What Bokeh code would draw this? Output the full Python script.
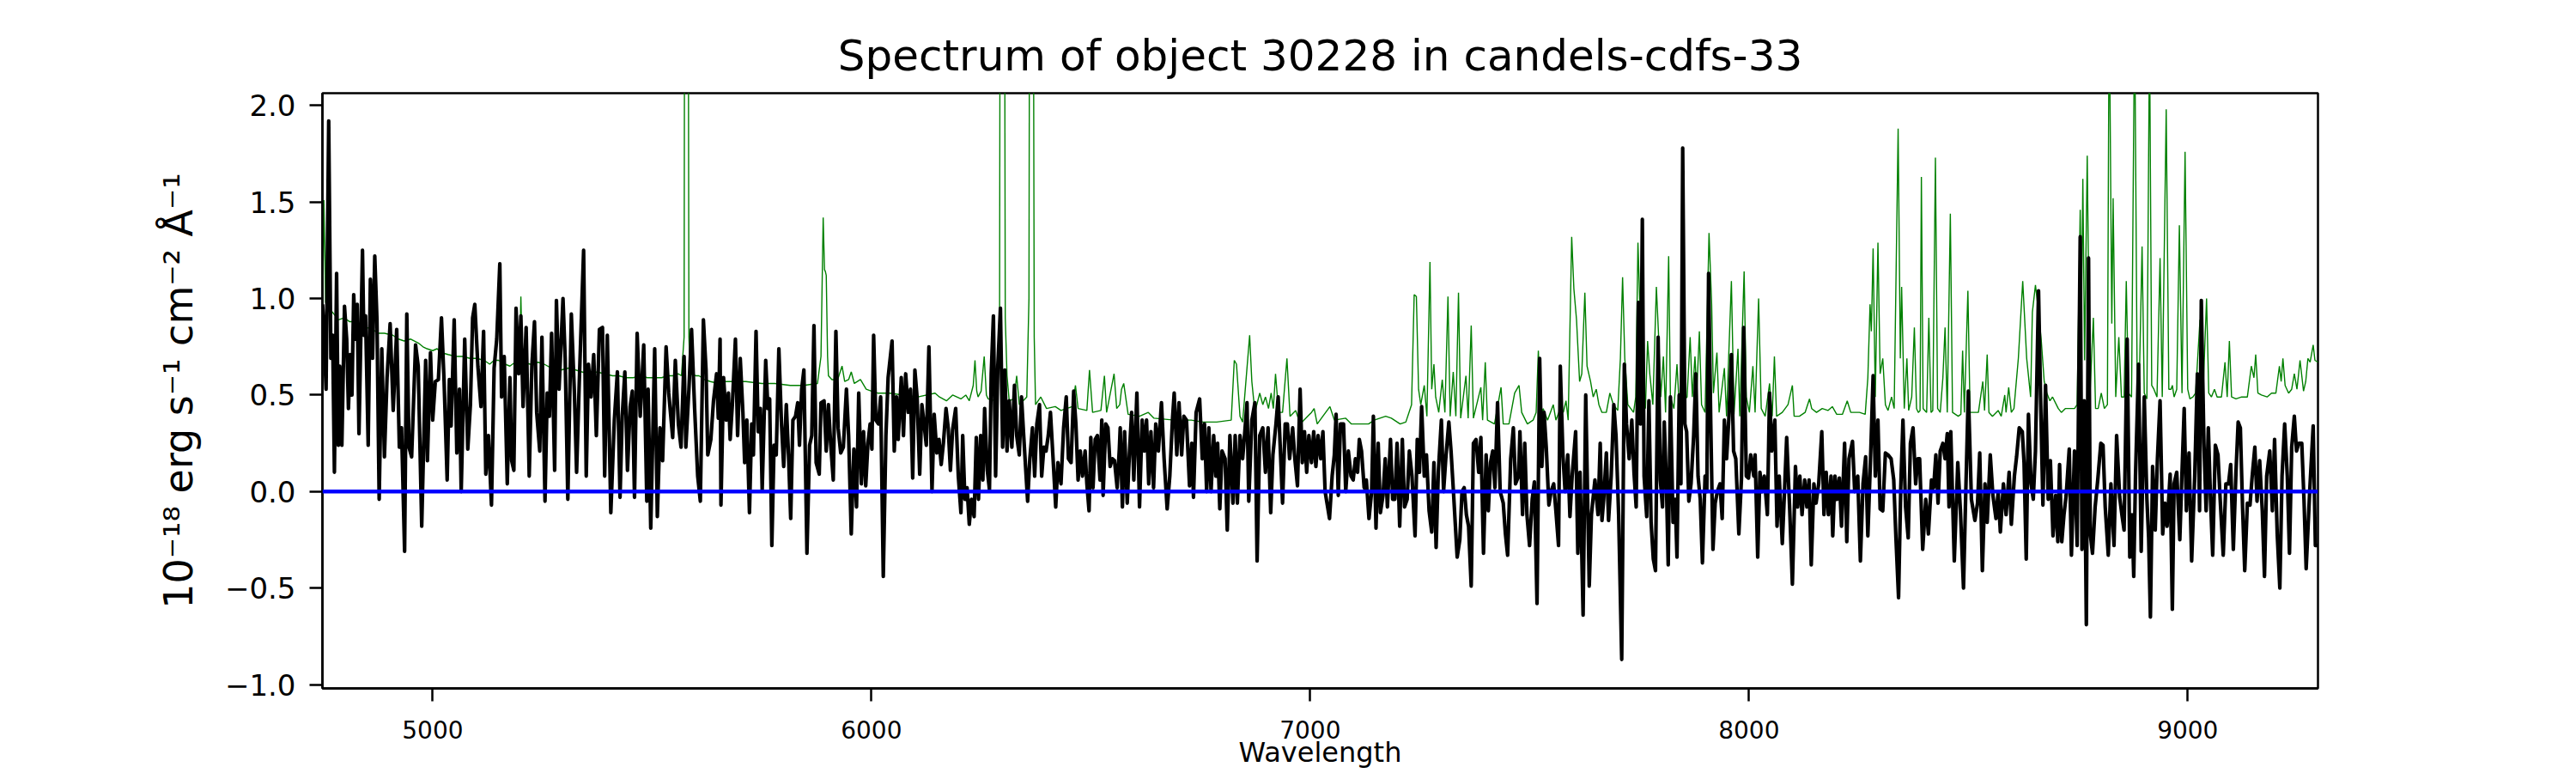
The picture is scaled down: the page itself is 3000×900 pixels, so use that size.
from bokeh.plotting import figure
from bokeh.models import Range1d, FixedTicker, Span, CustomJSTickFormatter
from bokeh.embed import file_html
from bokeh.resources import INLINE

TITLE = "Spectrum of object 30228 in candels-cdfs-33"
X_LABEL = "Wavelength"
Y_LABEL = "10⁻¹⁸ erg s⁻¹ cm⁻² Å⁻¹"
X_TICKS = [5000, 6000, 7000, 8000, 9000]
Y_TICKS = [-1.0, -0.5, 0.0, 0.5, 1.0, 1.5, 2.0]
X_LIMITS = (4748.7, 9296.9)
Y_LIMITS = (-1.02, 2.064)
ZERO_LEVEL = 0.0

# object flux (wavelength, flux)
FLUX_A = [(4749,0.97),(4751,0.89),(4757,0.53),(4763,1.92),(4768,0.69),(4772,0.81),(4776,0.10),(4781,1.13),(4785,0.24),(4788,0.65),(4793,0.24),
(4799,0.96),(4804,0.79),(4808,0.43),(4812,0.71),(4816,0.50),(4820,1.02),(4824,0.79),(4828,0.97),(4832,0.30),(4840,1.25),
(4843,0.81),(4847,0.91),(4853,0.24),(4858,1.10),(4863,0.69),(4868,1.22),(4873,0.89),(4878,-0.04),(4884,0.74),(4890,0.18),
(4896,0.59),(4903,0.87),(4910,0.42),(4918,0.84),(4924,0.23),(4929,0.33),(4936,-0.31),(4941,0.92),(4946,0.23),(4952,0.18),
(4961,0.76),(4967,0.65),(4975,-0.18),(4984,0.68),(4988,0.16),(4995,0.72),(5000,0.37),(5006,0.57),(5013,0.58),(5020,0.90),
(5026,0.57),(5033,0.06),(5038,0.58),(5042,0.34),(5049,0.89),(5055,0.20),(5061,0.53),(5065,0.00),(5073,0.79),(5080,0.22),
(5086,0.45),(5091,0.90),(5096,0.97),(5103,0.65),(5110,0.44),(5116,0.83),(5121,0.09),(5127,0.29),(5134,-0.07),(5140,0.64),
(5146,0.79),(5153,1.18),(5157,0.49),(5163,0.70),(5170,0.04),(5176,0.59),(5180,0.16),(5185,0.11),(5190,0.95),(5196,0.61),
(5201,0.91),(5206,0.44),(5213,0.85),(5220,0.08),(5226,0.65),(5232,0.88),(5237,0.41),(5244,0.21),(5249,0.80),(5256,-0.05),
(5261,0.51),(5266,0.39),(5271,0.82),(5278,0.11),(5282,0.99),(5288,0.53),(5297,1.00),(5302,0.69),(5308,-0.04),(5316,0.92),
(5323,0.51),(5328,0.10),(5334,0.56),(5344,1.25),(5350,0.08),(5355,0.66),(5361,0.49),(5367,0.71),(5373,0.29),(5380,0.84),
(5387,0.85),(5392,0.08),(5398,0.81),(5406,-0.11),(5414,0.37),(5421,0.62),(5427,-0.03),(5432,0.39),(5438,0.62),(5444,0.11),
(5450,0.44),(5455,0.52),(5460,-0.03),(5466,0.82),(5473,0.39),(5481,0.76),(5488,-0.05),(5491,0.53),(5497,-0.19),(5506,0.74),
(5512,-0.13),(5518,0.33),(5524,0.16),(5532,0.75),(5538,0.51),(5547,0.28),(5553,0.68),(5560,0.35),(5566,0.23),(5573,0.70),
(5577,0.23),(5584,0.53),(5590,0.84),(5597,0.43),(5604,0.08),(5610,-0.05),(5617,0.89),(5623,0.63),(5627,0.19),(5634,0.27),
(5640,0.47),(5647,0.61),(5651,0.38),(5655,0.79)]

FLUX_B = [(5657,-0.07),(5663,0.59),(5669,0.37),(5674,0.51),(5678,0.27),(5683,0.45),(5690,0.79),(5695,0.29),(5701,0.69),(5707,0.41),
(5711,0.15),(5716,0.37),(5722,-0.11),(5727,0.35),(5731,0.19),(5737,0.83),(5742,0.31),(5747,0.43),(5751,0.01),(5759,0.68),
(5764,0.43),(5768,0.48),(5773,-0.28),(5778,0.24),(5783,0.19),(5789,0.74),(5795,0.35),(5800,0.13),(5806,0.45),(5811,0.19),
(5816,-0.14),(5821,0.37),(5827,0.39),(5832,0.46),(5836,0.24),(5841,0.53),(5846,0.63),(5853,-0.32),(5859,0.24),(5864,0.29),
(5869,0.86),(5874,0.15),(5881,0.09),(5885,0.46),(5892,0.47),(5897,0.21),(5902,0.45),(5907,0.25),(5913,0.06),(5919,0.83),
(5924,0.33),(5930,0.20),(5936,0.23),(5943,0.53),(5948,0.29),(5954,-0.22),(5960,0.22),(5966,-0.08),(5971,0.51),(5977,0.04),
(5982,0.31),(5987,0.03),(5992,0.25),(5997,0.35),(6001,0.22),(6005,0.81),(6010,0.37),(6016,0.35),(6021,0.49),(6027,-0.44),
(6033,0.29),(6038,0.59),(6047,0.78),(6052,0.21),(6057,0.49),(6061,0.27),(6068,0.59),(6073,0.29),(6078,0.61),(6084,0.41),
(6089,0.53),(6094,0.07),(6099,0.63),(6104,0.49),(6110,0.09),(6115,0.45),(6120,0.35),(6125,0.24),(6131,0.75),(6138,0.00),
(6143,0.40),(6149,0.20),(6154,0.27),(6159,0.14),(6164,0.25),(6170,0.43),(6175,0.33),(6180,0.11),(6185,0.32),(6192,0.43),
(6198,0.08),(6204,-0.11),(6208,0.29),(6213,-0.04),(6218,0.02),(6223,-0.17),(6228,-0.04),(6234,-0.13),(6239,0.28),(6244,-0.04),
(6249,0.29),(6254,0.06),(6258,0.43),(6264,0.11),(6269,0.01),(6273,0.61),(6278,0.91),(6283,0.08),(6288,0.65),(6294,0.95),
(6299,0.23),(6304,0.63),(6309,0.21),(6314,0.47),(6320,0.23),(6326,0.55),(6331,0.29),(6337,0.19),(6342,0.49),(6347,0.29),
(6356,-0.05),(6361,0.17),(6367,0.33),(6372,0.08),(6377,0.35),(6383,0.45),(6388,0.08),(6393,0.23),(6398,0.21),(6403,0.29),
(6408,0.41),(6414,0.17),(6420,-0.08),(6425,0.15),(6432,0.04),(6438,0.33),(6444,0.49),(6449,0.17),(6455,0.15),(6461,0.52),
(6466,0.35),(6471,0.06),(6476,0.21),(6481,0.08),(6487,0.21),(6491,0.04),(6496,-0.10),(6500,0.28),(6505,0.02),(6510,0.27),
(6515,0.29),(6521,0.06),(6525,0.37),(6528,-0.02),(6534,0.35),(6539,0.33),(6544,0.13),(6549,0.17),(6554,0.16),(6560,0.02),
(6565,0.22)]

FLUX_C = [(6567,0.33),(6572,-0.08),(6577,0.31),(6583,-0.06),(6588,0.20),(6593,0.41),(6598,0.06),(6605,0.51),(6611,-0.08),(6617,0.37),
(6622,0.21),(6627,0.37),(6632,0.04),(6637,0.31),(6643,0.02),(6648,0.35),(6654,0.21),(6661,0.46),(6667,0.17),(6674,-0.09),
(6680,0.08),(6686,0.37),(6690,0.51),(6696,0.19),(6701,0.46),(6707,0.19),(6712,0.39),(6718,0.37),(6725,0.03),(6730,0.25),
(6734,-0.03),(6740,0.41),(6748,0.48),(6754,0.17),(6759,0.35),(6764,0.00),(6769,0.33),(6774,0.00),(6780,0.29),(6785,0.08),
(6789,0.25),(6794,-0.09),(6799,0.21),(6806,0.17),(6811,-0.20),(6817,0.29),(6824,-0.06),(6829,0.29),(6834,-0.06),(6840,0.29),
(6846,0.17),(6851,0.31),(6856,0.46),(6860,-0.05),(6867,0.37),(6874,0.46),(6879,-0.36),(6885,0.29),(6892,0.33),(6898,0.10),
(6904,0.33),(6910,-0.11),(6915,0.19),(6922,0.35),(6927,0.49),(6931,0.27),(6937,-0.06),(6943,0.35),(6948,0.35),(6953,0.17),
(6960,0.33),(6965,0.17),(6971,0.03),(6977,0.53),(6982,0.15),(6987,0.31),(6992,0.10),(6997,0.29),(7003,0.15),(7008,0.31),
(7013,0.13),(7018,0.29),(7024,0.17),(7029,0.31),(7034,0.00),(7039,-0.07),(7044,-0.14),(7050,0.08),(7055,0.19),(7059,0.40),
(7064,-0.02),(7069,0.35),(7076,0.35),(7081,0.00),(7087,0.21),(7093,0.08),(7098,0.06),(7103,0.17),(7108,0.10),(7112,0.27),
(7117,0.21),(7123,0.02),(7128,0.06),(7134,-0.14),(7140,0.00),(7144,0.39),(7150,-0.19),(7155,0.25),(7160,-0.11),(7166,-0.02),
(7171,0.17),(7176,-0.08),(7183,0.27),(7188,-0.04),(7193,-0.04),(7198,0.25),(7204,-0.18),(7210,0.27),(7215,-0.08),(7221,-0.04),
(7226,0.21),(7232,0.08),(7239,-0.23),(7244,0.27),(7249,0.10),(7254,0.44),(7260,0.08),(7265,0.19),(7271,-0.10),(7277,-0.21),
(7282,0.15),(7287,-0.29),(7292,0.10),(7299,0.37),(7304,0.00),(7309,0.17),(7316,0.36),(7321,0.21),(7327,-0.02),(7335,-0.34),
(7341,-0.25),(7346,0.00),(7351,0.02),(7356,-0.12),(7361,-0.18),(7367,-0.49),(7372,0.25),(7378,0.27),(7384,0.10),(7389,0.28),
(7395,-0.32),(7401,0.19),(7406,-0.10),(7411,0.15),(7416,0.21),(7421,0.02),(7427,0.46),(7433,0.00),(7440,-0.06),(7445,-0.22),
(7450,-0.33),(7457,0.17),(7463,0.33),(7468,0.04),(7475,0.08)]

FLUX_D = [(7478,0.31),(7484,-0.12),(7489,0.25),(7494,-0.12),(7500,-0.28),(7506,-0.04),(7511,0.05),(7517,-0.58),(7523,0.69),(7528,0.13),
(7533,0.41),(7538,0.23),(7544,-0.07),(7549,0.00),(7555,0.04),(7560,-0.10),(7566,-0.28),(7570,0.65),(7576,0.19),(7581,0.00),
(7587,0.19),(7592,-0.13),(7597,0.08),(7605,0.31),(7610,-0.32),(7615,0.10),(7622,-0.64),(7628,0.50),(7636,-0.49),(7641,-0.12),
(7649,0.06),(7656,-0.12),(7661,0.25),(7665,-0.15),(7669,-0.04),(7675,0.20),(7680,-0.15),(7686,0.08),(7692,0.45),(7697,0.29),
(7703,-0.12),(7710,-0.87),(7716,0.66),(7721,0.35),(7727,0.17),(7733,0.37),(7738,0.10),(7743,-0.08),(7748,0.98),(7753,0.35),
(7757,1.41),(7761,0.08),(7767,-0.13),(7772,0.47),(7777,-0.16),(7782,-0.35),(7787,-0.41),(7793,0.80),(7798,0.06),(7803,-0.08),
(7807,0.36),(7812,0.03),(7816,-0.38),(7821,0.49),(7827,-0.16),(7832,-0.04),(7836,-0.34),(7841,0.50),(7845,0.04),(7849,1.78),
(7854,0.35),(7858,0.31),(7863,-0.05),(7868,0.04),(7874,0.29),(7879,0.61),(7884,0.08),(7889,-0.04),(7894,-0.37),(7900,0.08),
(7904,0.00),(7908,1.13),(7913,0.35),(7918,-0.30),(7923,-0.06),(7928,0.00),(7934,0.04),(7939,-0.14),(7944,0.37),(7949,0.17),
(7954,0.37),(7960,0.71),(7965,0.21),(7970,0.17),(7977,-0.22),(7983,0.07),(7988,0.85),(7994,0.08),(7999,0.07),(8004,0.19),
(8011,0.08),(8014,0.19),(8020,-0.34),(8025,0.10),(8030,0.00),(8035,0.08),(8042,-0.12),(8047,0.51),(8052,0.21),(8059,0.37),
(8064,-0.18),(8069,0.08),(8076,-0.27),(8081,0.00),(8086,0.28),(8093,-0.10),(8099,-0.48),(8106,0.13),(8111,-0.08),(8116,0.08),
(8121,-0.12),(8127,0.06),(8132,-0.08),(8137,0.06),(8142,-0.38),(8148,0.04),(8153,-0.06),(8159,0.04),(8166,0.31),(8171,-0.12),
(8176,0.10),(8181,-0.12),(8187,0.08),(8191,-0.23),(8196,0.08),(8201,-0.04),(8206,0.07),(8211,-0.18),(8218,0.25),(8223,-0.26),
(8228,0.17),(8236,0.26),(8241,0.00),(8248,0.08),(8254,-0.36),(8260,0.04),(8266,0.18),(8271,-0.23),(8278,0.23),(8283,0.60),
(8288,0.08),(8294,0.37),(8299,-0.09),(8305,-0.10),(8311,0.20),(8317,0.19),(8324,0.17),(8330,0.06),(8335,-0.24),(8341,-0.55),
(8346,0.02),(8351,0.37),(8357,-0.08),(8363,-0.24),(8368,0.25),(8374,0.33),(8380,0.04),(8385,0.17)]

FLUX_E = [(8389,0.17),(8396,-0.30),(8403,-0.04),(8409,-0.22),(8416,0.06),(8421,0.02),(8426,0.19),(8431,-0.06),(8436,0.21),(8442,0.25),
(8447,0.17),(8452,0.30),(8456,-0.08),(8460,0.31),(8468,-0.36),(8476,0.15),(8482,-0.10),(8489,-0.50),(8494,-0.02),(8500,0.52),
(8507,-0.04),(8515,-0.15),(8521,-0.06),(8526,0.20),(8532,-0.41),(8538,0.04),(8543,-0.16),(8550,0.19),(8556,-0.02),(8563,-0.14),
(8568,0.00),(8573,-0.21),(8580,0.04),(8586,-0.12),(8593,0.10),(8598,-0.17),(8605,0.08),(8610,0.18),(8616,0.33),(8623,0.31),
(8627,0.15),(8632,-0.35),(8637,0.40),(8643,0.04),(8648,-0.04),(8653,0.21),(8660,1.04),(8665,0.45),(8670,-0.07),(8676,0.55),
(8682,-0.04),(8687,0.16),(8693,-0.23),(8699,-0.02),(8704,-0.26),(8708,0.14),(8713,-0.26),(8718,-0.12),(8723,-0.02),(8730,0.22),
(8735,-0.33),(8742,0.21),(8748,-0.28),(8755,1.32),(8759,-0.30),(8764,0.47),(8769,-0.69),(8774,1.21),(8778,-0.22),(8783,-0.32),
(8789,-0.08),(8795,0.06),(8802,0.25),(8807,0.24),(8812,-0.08),(8819,-0.33),(8825,0.04),(8832,-0.28),(8838,0.29),(8845,-0.03),
(8850,-0.12),(8855,-0.20),(8862,0.79),(8868,-0.34),(8873,-0.12),(8877,-0.44),(8881,0.08),(8888,0.66),(8894,-0.31),(8901,0.49),
(8907,-0.04),(8911,-0.24),(8915,-0.65),(8920,0.13),(8926,-0.20),(8931,0.17),(8937,0.47),(8943,-0.22),(8948,-0.06),(8953,-0.18),
(8960,0.09),(8965,-0.61),(8969,0.04),(8975,0.10),(8982,-0.25),(8987,0.10),(8992,0.43),(8997,-0.10),(9003,0.20),(9009,-0.36),
(9016,0.08),(9022,0.61),(9027,-0.10),(9031,0.99),(9037,0.25),(9042,-0.10),(9047,0.33),(9052,-0.04),(9057,-0.33),(9063,0.24),
(9069,0.19),(9074,-0.04),(9081,-0.33),(9087,0.04),(9093,0.04),(9098,0.14),(9104,-0.30),(9110,0.10),(9115,0.36),(9120,0.33),
(9125,-0.08),(9130,-0.41),(9136,-0.06),(9142,-0.07),(9147,0.08),(9153,0.23),(9158,-0.05),(9164,0.16),(9170,-0.10),(9175,-0.44),
(9180,0.08),(9187,0.21),(9193,-0.10),(9198,0.27),(9204,-0.22),(9210,-0.50),(9215,0.08),(9221,0.35),(9227,0.08),(9232,-0.32),
(9237,0.23),(9243,0.39),(9248,0.21),(9253,0.25),(9260,0.25),(9265,-0.04),(9270,-0.40),(9278,0.00),(9286,0.34),(9291,-0.28),
(9297,-0.28)]

# noise / sky spectrum (wavelength, value)
SKY_A = [(4749,0.95),(4752,1.51),(4756,0.98),(4768,0.94),(4785,0.89),(4798,0.90),(4811,0.88),(4824,0.88),(4837,0.87),(4850,0.85),
(4863,0.84),(4876,0.82),(4890,0.82),(4909,0.81),(4922,0.79),(4935,0.78),(4950,0.79),(4967,0.77),(4978,0.75),(4987,0.74),
(5000,0.73),(5010,0.74),(5019,0.72),(5035,0.71),(5052,0.70),(5068,0.70),(5085,0.69),(5100,0.69),(5117,0.68),(5130,0.66),
(5140,0.68),(5150,0.68),(5165,0.66),(5176,0.65),(5188,0.67),(5196,0.66),(5199,0.75),(5201,1.01),(5203,0.80),(5205,0.67),
(5222,0.66),(5240,0.67),(5254,0.66),(5270,0.64),(5293,0.63),(5310,0.64),(5326,0.63),(5340,0.62),(5359,0.61),(5375,0.62),
(5391,0.61),(5410,0.60),(5424,0.60),(5440,0.59),(5457,0.59),(5475,0.60),(5489,0.59),(5505,0.59),(5522,0.59),(5535,0.60),
(5548,0.60),(5560,0.61),(5567,0.60),(5573,0.80),(5576,6.0),(5580,6.0),(5584,0.80),(5587,0.61),(5600,0.60),(5607,0.60),
(5620,0.58),(5633,0.57),(5652,0.56)]

SKY_B = [(5662,0.57),(5690,0.57),(5714,0.57),(5750,0.56),(5780,0.56),(5815,0.55),(5845,0.55),(5877,0.56),(5885,0.70),(5890,1.42),
(5893,1.15),(5895,1.14),(5897,1.12),(5900,0.70),(5902,0.60),(5910,0.58),(5923,0.58),(5933,0.65),(5939,0.57),(5948,0.58),
(5954,0.62),(5961,0.56),(5975,0.58),(5988,0.53),(6000,0.52),(6014,0.51),(6041,0.51),(6073,0.50),(6106,0.49),(6145,0.51),
(6155,0.49),(6171,0.47),(6185,0.50),(6204,0.48),(6215,0.50),(6223,0.47),(6232,0.55),(6236,0.68),(6240,0.52),(6243,0.49),
(6250,0.52),(6257,0.70),(6262,0.50),(6266,0.48),(6282,0.47),(6292,0.80),(6295,6.0),(6301,6.0),(6305,0.90),(6309,0.60),
(6314,0.47),(6325,0.48),(6331,0.60),(6337,0.45),(6354,0.49),(6359,1.0),(6362,5.0),(6367,5.0),(6371,0.8),(6374,0.45),
(6386,0.49),(6399,0.43),(6419,0.44),(6432,0.42),(6458,0.44),(6465,0.55),(6471,0.43),(6491,0.42),(6497,0.63),(6504,0.41),
(6523,0.42),(6531,0.60),(6536,0.41),(6553,0.61),(6559,0.43)]

SKY_C = [(6566,0.45),(6570,0.53),(6575,0.56),(6585,0.40),(6611,0.39),(6631,0.41),(6644,0.38),(6690,0.37),(6729,0.37),(6755,0.36),
(6787,0.36),(6820,0.37),(6827,0.68),(6832,0.66),(6840,0.39),(6846,0.36),(6862,0.81),(6867,0.57),(6874,0.41),(6885,0.51),
(6892,0.45),(6898,0.49),(6905,0.43),(6911,0.51),(6916,0.43),(6921,0.61),(6928,0.41),(6937,0.41),(6947,0.69),(6954,0.39),
(6967,0.42),(6977,0.35),(7003,0.41),(7009,0.43),(7016,0.35),(7045,0.44),(7055,0.37),(7081,0.38),(7094,0.35),(7133,0.35),
(7146,0.37),(7172,0.39),(7185,0.38),(7205,0.35),(7218,0.36),(7231,0.45),(7237,1.02),(7242,1.01),(7247,0.53),(7252,0.45),
(7260,0.55),(7266,0.39),(7273,1.19),(7277,0.53),(7282,0.66),(7286,0.49),(7293,0.41),(7301,0.58),(7307,0.41),(7314,1.01),
(7319,0.39),(7326,0.62),(7332,0.39),(7338,1.03),(7343,0.38),(7355,0.60),(7360,0.38),(7367,0.86),(7372,0.38),(7389,0.54),
(7393,0.37),(7399,0.67),(7404,0.37),(7420,0.35),(7435,0.54),(7440,0.35),(7453,0.35),(7466,0.51),(7476,0.55)]

SKY_D = [(7482,0.41),(7495,0.35),(7508,0.37),(7515,0.41),(7520,0.73),(7525,0.39),(7531,0.43),(7541,0.37),(7554,0.45),(7560,0.37),
(7570,0.43),(7577,0.41),(7583,0.47),(7588,0.37),(7596,1.32),(7601,1.05),(7607,0.89),(7614,0.57),(7619,0.61),(7626,1.03),
(7631,0.65),(7639,0.57),(7645,0.49),(7652,0.53),(7658,0.45),(7665,0.41),(7675,0.41),(7683,0.51),(7691,0.45),(7701,0.42),
(7707,0.69),(7712,1.11),(7717,0.69),(7724,0.45),(7737,0.41),(7742,0.49),(7747,1.29),(7751,0.99),(7756,0.59),(7764,0.43),
(7769,0.78),(7774,0.61),(7781,0.45),(7789,1.06),(7794,0.81),(7799,0.49),(7805,0.70),(7810,0.41),(7817,1.22),(7821,0.49),
(7829,0.43),(7836,0.66),(7841,0.45),(7859,0.49),(7866,0.80),(7871,0.49),(7877,0.70),(7881,0.51),(7887,0.83),(7892,0.45),
(7900,0.41),(7909,1.34),(7915,0.97),(7919,0.51),(7927,0.72),(7932,0.41),(7944,0.64),(7949,0.39),(7960,1.09),(7966,0.40),
(7975,0.74),(7979,0.39),(7989,1.14),(7994,0.49),(8001,0.41),(8009,0.65),(8014,0.41),(8022,1.00),(8028,0.43),(8037,0.39),
(8047,0.56),(8053,0.39),(8058,0.70),(8063,0.39),(8076,0.41),(8089,0.45),(8099,0.55),(8103,0.39),(8115,0.39),(8128,0.41),
(8138,0.48),(8143,0.43),(8154,0.41),(8167,0.43),(8180,0.42),(8190,0.44),(8200,0.40),(8213,0.40),(8224,0.47),(8232,0.41),
(8252,0.41),(8265,0.40),(8271,0.59),(8276,0.97),(8279,0.83),(8283,1.26),(8288,0.49),(8294,1.29),(8299,0.61),(8305,0.69),
(8311,0.45),(8317,0.42),(8325,0.49),(8331,0.43),(8340,1.88),(8345,0.69),(8348,1.06),(8354,0.43),(8360,0.69),(8364,0.42),
(8371,0.49),(8377,0.85),(8382,0.43)]

SKY_E = [(8386,0.41),(8390,0.42),(8393,1.63),(8397,0.43),(8405,0.41),(8410,0.90),(8415,0.41),(8419,0.42),(8425,1.73),(8430,0.43),
(8436,0.41),(8442,0.59),(8447,0.85),(8452,0.41),(8459,1.44),(8464,0.41),(8477,0.39),(8483,0.40),(8487,0.73),(8491,0.41),
(8499,1.04),(8504,0.41),(8523,0.41),(8533,0.57),(8537,0.42),(8543,0.71),(8547,0.41),(8555,0.39),(8568,0.42),(8575,0.39),
(8583,0.50),(8586,0.41),(8592,0.54),(8598,0.41),(8604,0.43),(8614,0.69),(8624,1.09),(8633,0.69),(8642,0.49),(8646,0.93),
(8653,1.07),(8659,0.95),(8666,0.79),(8673,0.57),(8679,0.51),(8686,0.47),(8692,0.49),(8705,0.43),(8712,0.41),(8721,0.43),
(8731,0.43),(8742,0.43),(8748,0.45),(8755,1.46),(8758,0.90),(8761,1.62),(8765,0.68),(8771,1.74),(8777,0.49),(8785,0.90),
(8790,0.43),(8796,0.43),(8803,0.51),(8810,0.43),(8817,0.45),(8821,2.6),(8827,0.87),(8830,1.52),(8836,0.49),(8843,0.80),
(8849,0.49),(8855,0.49),(8860,1.09),(8865,0.51),(8872,0.49),(8879,2.5),(8885,0.51),(8889,0.49),(8896,1.27),(8901,0.51),
(8907,0.48),(8913,2.4),(8918,0.55),(8923,0.53),(8930,0.49),(8937,1.21),(8942,0.49),(8951,1.98),(8957,0.53),(8962,0.53),
(8965,0.55),(8969,0.49),(8975,0.53),(8981,1.38),(8987,0.51),(8994,1.76),(9000,0.53),(9005,0.48),(9012,0.49),(9018,0.51),
(9028,0.89),(9035,0.51),(9043,1.00),(9048,0.51),(9054,0.49),(9061,0.53),(9067,0.49),(9077,0.49),(9085,0.67),(9090,0.49),
(9095,0.78),(9100,0.49),(9110,0.48),(9123,0.49),(9136,0.49),(9145,0.65),(9151,0.59),(9155,0.71),(9160,0.51),(9168,0.50),
(9181,0.49),(9191,0.51),(9201,0.51),(9209,0.65),(9213,0.57),(9217,0.69),(9222,0.55),(9230,0.51),(9237,0.53),(9243,0.61),
(9249,0.53),(9256,0.68),(9264,0.52),(9269,0.57),(9274,0.69),(9279,0.67),(9286,0.76),(9290,0.68),(9297,0.67)]

flux_pts = FLUX_A + FLUX_B + FLUX_C + FLUX_D + FLUX_E
sky_pts = SKY_A + SKY_B + SKY_C + SKY_D + SKY_E
flux_w = [w for w, f in flux_pts]
flux_v = [f for w, f in flux_pts]
sky_w = [w for w, f in sky_pts]
sky_v = [f for w, f in sky_pts]

FONT = "DejaVu Sans"

p = figure(width=3000, height=900, output_backend="svg", toolbar_location=None,
           x_range=Range1d(*X_LIMITS), y_range=Range1d(*Y_LIMITS),
           min_border_left=375, min_border_right=301, min_border_top=108, min_border_bottom=99,
           title=TITLE)

p.background_fill_color = "white"
p.border_fill_color = "white"
p.xgrid.visible = False
p.ygrid.visible = False
p.outline_line_color = "black"
p.outline_line_width = 2.5
p.outline_line_alpha = 1.0

p.title.align = "center"
p.title.text_font = FONT
p.title.text_font_size = "50px"
p.title.text_font_style = "normal"
p.title.text_color = "black"
p.title.standoff = 30

for ax in (p.xaxis[0], p.yaxis[0]):
    ax.axis_line_width = 2.5
    ax.axis_line_color = "black"
    ax.major_tick_line_width = 2.5
    ax.major_tick_line_color = "black"
    ax.major_tick_out = 15
    ax.major_tick_in = 0
    ax.minor_tick_line_color = None
    ax.major_label_text_font = FONT
    ax.major_label_text_color = "black"
    ax.axis_label_text_font = FONT
    ax.axis_label_text_font_style = "normal"
    ax.axis_label_text_color = "black"

p.xaxis.ticker = FixedTicker(ticks=X_TICKS)
p.yaxis.ticker = FixedTicker(ticks=Y_TICKS)
p.yaxis.formatter = CustomJSTickFormatter(code="return tick.toFixed(1).replace('-', '\u2212');")

p.xaxis.major_label_text_font_size = "28px"
p.xaxis.major_label_standoff = 22
p.xaxis.axis_label = X_LABEL
p.xaxis.axis_label_text_font_size = "32px"
p.xaxis.axis_label_text_line_height = 1.0
p.xaxis.axis_label_standoff = -6

p.yaxis.major_label_text_font_size = "34px"
p.yaxis.major_label_standoff = 16
p.yaxis.axis_label = Y_LABEL
p.yaxis.axis_label_text_font_size = "46px"
p.yaxis.axis_label_standoff = 24

p.line(sky_w, sky_v, line_color="#008000", line_width=1.4)
p.line(flux_w, flux_v, line_color="black", line_width=4.2, line_join="round")
p.add_layout(Span(location=ZERO_LEVEL, dimension="width", line_color="#0000ff", line_width=4.5))

open("out.html", "w").write(file_html(p, INLINE))
